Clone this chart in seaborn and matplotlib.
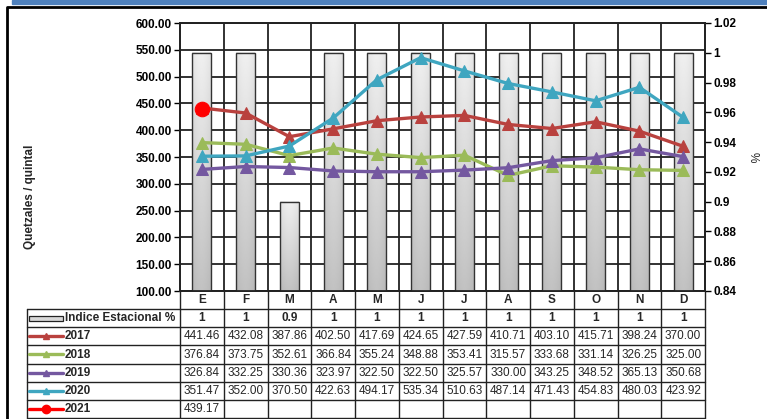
import numpy as np
import pandas as pd
import matplotlib
matplotlib.use("Agg")
import matplotlib.pyplot as plt
from matplotlib.patches import Rectangle
from matplotlib.lines import Line2D
import seaborn as sns

# --- datos ---
meses = ["E", "F", "M", "A", "M", "J", "J", "A", "S", "O", "N", "D"]
indice = [1, 1, 0.9, 1, 1, 1, 1, 1, 1, 1, 1, 1]
p2017 = [441.46, 432.08, 387.86, 402.50, 417.69, 424.65, 427.59, 410.71, 403.10, 415.71, 398.24, 370.00]
p2018 = [376.84, 373.75, 352.61, 366.84, 355.24, 348.88, 353.41, 315.57, 333.68, 331.14, 326.25, 325.00]
p2019 = [326.84, 332.25, 330.36, 323.97, 322.50, 322.50, 325.57, 330.00, 343.25, 348.52, 365.13, 350.68]
p2020 = [351.47, 352.00, 370.50, 422.63, 494.17, 535.34, 510.63, 487.14, 471.43, 454.83, 480.03, 423.92]
p2021 = [439.17]

series = [
    ("2017", p2017, "#b9413e", "^"),
    ("2018", p2018, "#9bbb59", "^"),
    ("2019", p2019, "#7458a0", "^"),
    ("2020", p2020, "#3fa6c0", "^"),
    ("2021", p2021, "#ff0000", "o"),
]

sns.set_theme(style="white")
plt.rcParams['font.family'] = ['Liberation Sans', 'DejaVu Sans']

W, H = 767, 419
fig = plt.figure(figsize=(W / 100, H / 100), dpi=100)


def fx(px):
    return px / W


def fy(py):
    return 1 - py / H


# marco y banda azul
fig.add_artist(Rectangle((fx(12), fy(4)), 1, 4 / H, color="#4f81bd", transform=fig.transFigure))
fig.add_artist(Line2D([fx(7), fx(7), 1], [0, fy(7), fy(7)], color="black", lw=2.0, transform=fig.transFigure))

L, R, T, B = 180, 705, 23, 291
YMIN2, YMAX2 = 0.84, 1.02
pos = [fx(L), fy(B), (R - L) / W, (B - T) / H]
ax = fig.add_axes(pos)
ax2 = ax.twinx()
ax3 = fig.add_axes(pos, sharex=ax, sharey=ax)
ax.set_zorder(0)
ax2.set_zorder(1)
ax3.set_zorder(2)
ax.patch.set_facecolor("white")
ax2.patch.set_visible(False)
ax3.axis("off")

# barras del indice estacional (eje secundario)
df_idx = pd.DataFrame({"pos": range(len(indice)), "indice": indice})
sns.barplot(data=df_idx, x="pos", y="indice", ax=ax2, width=0.43, color="#d0d0d0",
            edgecolor="#333333", linewidth=1.0)

# relleno degradado de las barras
gx = np.linspace(0, 1, 40)
gy = np.linspace(0, 1, 80)
hor = 0.95 + 0.05 * np.sin(gx * np.pi)
ver = 0.94 - 0.18 * gy
grad = np.clip(np.outer(ver, hor), 0, 1)
for p in list(ax2.patches):
    x0, y0 = p.get_x(), max(p.get_y(), YMIN2)
    w, top = p.get_width(), p.get_y() + p.get_height()
    p.set_facecolor("none")
    ax2.imshow(grad, cmap="gray", vmin=0, vmax=1, extent=[x0, x0 + w, y0, top],
               aspect="auto", origin="upper", zorder=1.5, interpolation="bilinear")
    p.set_zorder(2)

# lineas de precios
for nombre, vals, col, mk in series:
    sns.lineplot(x=list(range(len(vals))), y=vals, ax=ax3, color=col, lw=2.4,
                 marker=mk, markersize=8 if mk == "^" else 10.5, markeredgecolor=col)

ax.set_xlim(-0.5, len(meses) - 0.5)
ax.set_ylim(100, 600)
ax2.set_ylim(YMIN2, YMAX2)
ax2.set_xlim(-0.5, len(meses) - 0.5)

yt = np.arange(100, 601, 50)
ax.set_yticks(yt)
ax.set_yticklabels([f"{v:.2f}" for v in yt], fontsize=8.5, fontweight="bold")
ax.set_xticks([])
ax.grid(False)
for v in yt:
    ax.axhline(v, color="#222222", lw=1.3, zorder=0.5)
for i in range(len(meses) - 1):
    ax.axvline(i + 0.5, color="#222222", lw=1.3, zorder=0.5)

yt2 = np.round(np.arange(YMIN2, YMAX2 + 0.0001, 0.02), 2)
ax2.set_yticks(yt2)
ax2.set_yticklabels([f"{v:g}" for v in yt2], fontsize=8.5, fontweight="bold")
ax2.set_xticks([])
ax2.set_xlabel("")
ax2.set_ylabel("")
ax2.grid(False)
for a in (ax, ax2):
    a.tick_params(axis="y", length=4, width=1, color="black", pad=2, colors="black")
    for s in a.spines.values():
        s.set_color("#222222")
        s.set_linewidth(1.3)

fig.text(fx(30), fy(197), "Quetzales / quintal", rotation=90, ha="center", va="center",
         fontsize=8.5, fontweight="bold")
fig.text(fx(753), fy(157), "%", rotation=270, ha="center", va="center", fontsize=8.5)

# --- tabla de datos ---
TL, TB = 27, 418
tab = fig.add_axes([fx(TL), fy(TB), (R - TL) / W, (TB - B) / H])
cw = (R - L) / len(meses)
xl = -0.5 - (L - TL) / cw
tab.set_xlim(xl, len(meses) - 0.5)
tab.set_ylim(7, 0)
tab.axis("off")

lk = dict(color="#222222", lw=1.0, clip_on=False)
for i in range(len(meses) + 1):
    tab.plot([i - 0.5, i - 0.5], [0, 7], **lk)
tab.plot([xl, xl], [1, 7], **lk)
for r in range(1, 8):
    tab.plot([xl, len(meses) - 0.5], [r, r], **lk)

for i, m in enumerate(meses):
    tab.text(i, 0.5, m, ha="center", va="center", fontsize=8.5, fontweight="bold")
    tab.text(i, 1.5, f"{indice[i]:g}", ha="center", va="center", fontsize=8.5, fontweight="bold")

tab.add_patch(Rectangle((xl + 0.05, 1.5 - 0.14), 0.78, 0.28, facecolor="#d8d8d8",
                        edgecolor="#222222", lw=0.9, clip_on=False))
tab.text(xl + 0.86, 1.5, "Indice Estacional %", ha="left", va="center", fontsize=8.5, fontweight="bold")

for r, (nombre, vals, col, mk) in enumerate(series, start=2):
    yc = r + 0.5
    tab.plot([xl + 0.05, xl + 0.83], [yc, yc], color=col, lw=2.4, clip_on=False)
    tab.plot([xl + 0.44], [yc], marker=mk, color=col, ms=5 if mk == "^" else 6, clip_on=False)
    tab.text(xl + 0.86, yc, nombre, ha="left", va="center", fontsize=8.5, fontweight="bold")
    for i, v in enumerate(vals):
        tab.text(i, yc, f"{v:.2f}", ha="center", va="center", fontsize=8.5)

fig.savefig("out.png", dpi=100)
